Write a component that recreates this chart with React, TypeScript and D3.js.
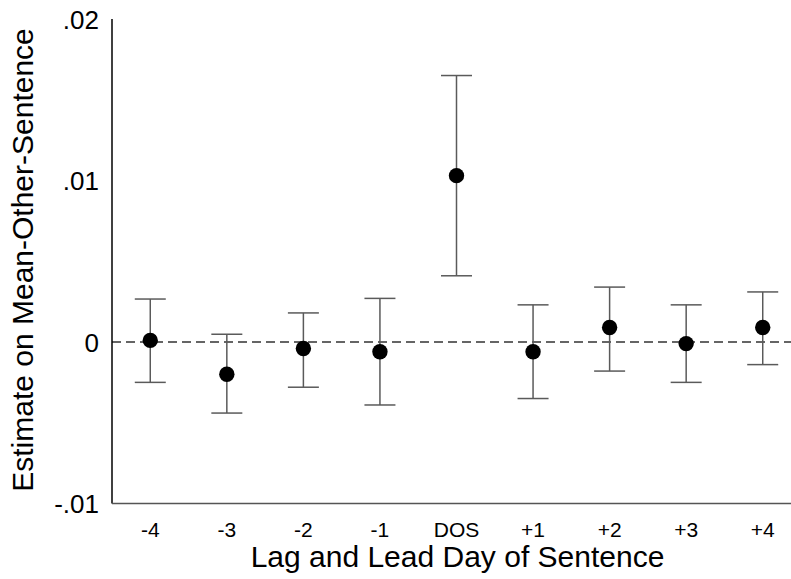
import React from "react";
import * as d3 from "d3";

const categories = ["-4", "-3", "-2", "-1", "DOS", "+1", "+2", "+3", "+4"];
const estimates = [0.0001, -0.002, -0.0004, -0.0006, 0.0103, -0.0006, 0.0009, -0.0001, 0.0009];
const upper = [0.00266, 0.00048, 0.0018, 0.0027, 0.0165, 0.0023, 0.0034, 0.0023, 0.0031];
const lower = [-0.0025, -0.0044, -0.0028, -0.0039, 0.0041, -0.0035, -0.0018, -0.0025, -0.0014];
const yTicks = [-0.01, 0, 0.01, 0.02];
const yTickLabels = ["-.01", "0", ".01", ".02"];

const W = 791;
const H = 579;
const left = 112;
const top = 19;
const bottom = 503.5;

export default function App() {
  const x = d3.scaleBand<string>().domain(categories).range([left, 801]).padding(0);
  const y = d3.scaleLinear().domain([-0.01, 0.02]).range([bottom, top]);
  const cx = (c: string) => (x(c) as number) + x.bandwidth() / 2;
  const font = "'Liberation Sans', Arial, sans-serif";
  const cap = 15.5;
  return (
    <svg width={W} height={H} style={{ position: "absolute", left: 0, top: 0, background: "#fff" }} fontFamily={font}>
      <rect x={0} y={0} width={W} height={H} fill="#fff" />
      <line x1={left} x2={W} y1={y(0)} y2={y(0)} stroke="#333" strokeWidth={1.3} strokeDasharray="9,5" />
      <line x1={left} x2={left} y1={top} y2={bottom} stroke="#000" strokeWidth={1.5} />
      <line x1={left} x2={W} y1={bottom} y2={bottom} stroke="#555" strokeWidth={1.5} />
      {yTicks.map((t, i) => (
        <text key={t} x={99} y={y(t) + 9.5} textAnchor="end" fontSize={26} fill="#000">
          {yTickLabels[i]}
        </text>
      ))}
      {categories.map((c) => (
        <text key={c} x={cx(c)} y={537} textAnchor="middle" fontSize={21} fill="#000">
          {c}
        </text>
      ))}
      {categories.map((c, i) => (
        <g key={"e" + c}>
          <line x1={cx(c)} x2={cx(c)} y1={y(upper[i])} y2={y(lower[i])} stroke="#5a5a5a" strokeWidth={1.5} />
          <line x1={cx(c) - cap} x2={cx(c) + cap} y1={y(upper[i])} y2={y(upper[i])} stroke="#5a5a5a" strokeWidth={1.5} />
          <line x1={cx(c) - cap} x2={cx(c) + cap} y1={y(lower[i])} y2={y(lower[i])} stroke="#5a5a5a" strokeWidth={1.5} />
          <circle cx={cx(c)} cy={y(estimates[i])} r={7.7} fill="#000" />
        </g>
      ))}
      <text x={457.5} y={567} textAnchor="middle" fontSize={30} fill="#000">
        Lag and Lead Day of Sentence
      </text>
      <text transform={`translate(33,260) rotate(-90)`} textAnchor="middle" fontSize={30} fill="#000">
        Estimate on Mean-Other-Sentence
      </text>
    </svg>
  );
}
